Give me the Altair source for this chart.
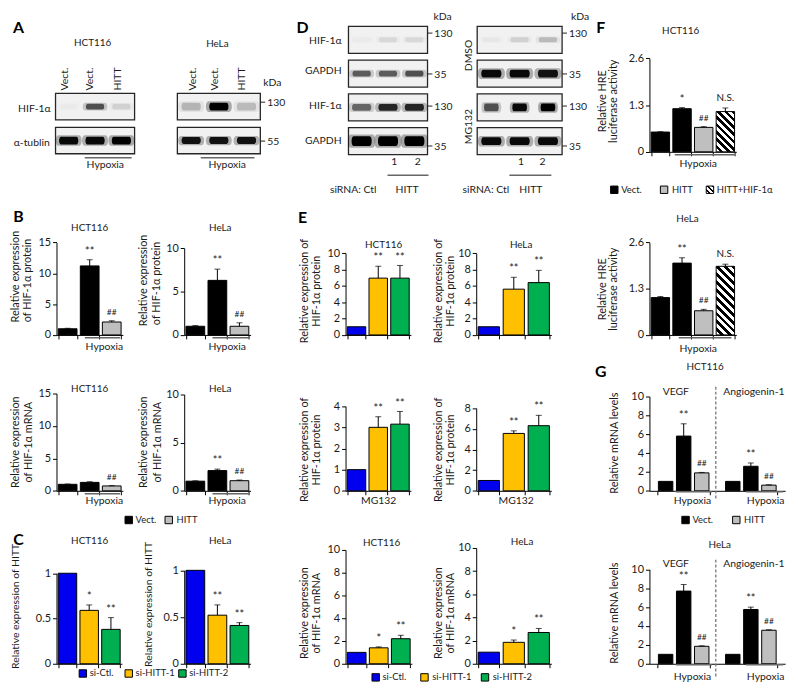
import math
import altair as alt
import pandas as pd

FONT = "Lato"
SX, SY = 0.986, 0.983
C = [48, 178, 343, 476, 653, 797]
R = [15, 144, 332, 492, 669]
INK = "#1a1a1a"

COLORS = {"Vect.": "#000000", "HITT": "#bfbfbf", "HITT+HIF-1α": "#ffffff",
          "si-Ctl.": "#0000ee", "si-HITT-1": "#ffc000", "si-HITT-2": "#00b050"}

# ------------------------------------------------------------------ data
vect_hitt = ["Vect.", "Vect.", "HITT"]
sirna = ["si-Ctl.", "si-HITT-1", "si-HITT-2"]
luc_groups = ["Vect.", "Vect.", "HITT", "HITT+HIF-1α"]
gene_names = ["VEGF"] * 3 + ["Angiogenin-1"] * 3
gene_groups = vect_hitt * 2

b1_vals = [1.0, 11.2, 2.1]; b1_errs = [0.08, 1.0, 0.2]; b1_sig = ["", "**", "##"]
b2_vals = [1.0, 6.3, 1.0]; b2_errs = [0.08, 1.3, 0.4]; b2_sig = ["", "**", "##"]
b3_vals = [1.0, 1.3, 0.75]; b3_errs = [0.05, 0.1, 0.05]; b3_sig = ["", "", "##"]
b4_vals = [1.0, 2.1, 1.05]; b4_errs = [0.04, 0.15, 0.07]; b4_sig = ["", "**", "##"]

c1_vals = [1.0, 0.59, 0.38]; c1_errs = [0, 0.06, 0.13]; c1_sig = ["", "*", "**"]
c2_vals = [1.0, 0.52, 0.41]; c2_errs = [0, 0.11, 0.03]; c2_sig = ["", "**", "**"]

e1_vals = [1.0, 6.95, 6.95]; e1_errs = [0, 1.45, 1.55]; e1_sig = ["", "**", "**"]
e2_vals = [1.0, 5.6, 6.4]; e2_errs = [0, 1.45, 1.5]; e2_sig = ["", "**", "**"]
e3_vals = [1.0, 3.0, 3.15]; e3_errs = [0, 0.5, 0.6]; e3_sig = ["", "**", "**"]
e4_vals = [1.0, 5.55, 6.3]; e4_errs = [0, 0.25, 1.0]; e4_sig = ["", "**", "**"]
e5_vals = [1.0, 1.4, 2.2]; e5_errs = [0, 0.08, 0.3]; e5_sig = ["", "*", "**"]
e6_vals = [1.0, 1.85, 2.7]; e6_errs = [0, 0.2, 0.35]; e6_sig = ["", "*", "**"]

f1_vals = [0.55, 1.2, 0.68, 1.12]; f1_errs = [0.01, 0.03, 0.02, 0.1]; f1_sig = ["", "*", "##", "N.S."]
f2_vals = [1.05, 2.02, 0.68, 1.93]; f2_errs = [0.03, 0.15, 0.04, 0.06]; f2_sig = ["", "**", "##", "N.S."]

g1_vals = [1.0, 5.8, 1.9, 1.0, 2.6, 0.6]; g1_errs = [0, 1.3, 0.05, 0, 0.35, 0.04]
g1_sig = ["", "**", "##", "", "**", "##"]
g2_vals = [1.0, 7.7, 1.85, 1.0, 5.75, 3.55]; g2_errs = [0, 0.7, 0.05, 0, 0.25, 0.05]
g2_sig = ["", "**", "##", "", "**", "##"]

# western blot band intensities (rows x lanes)
a_lanes = ["Vect.", "Vect.", "HITT"]
a_hct_blot = [[0.02, 0.6, 0.1], [0.95, 0.95, 1.0]]
a_hela_blot = [[0.2, 1.0, 0.18], [0.9, 0.9, 0.9]]
d_left_blot = [[0.02, 0.08, 0.08], [0.55, 0.55, 0.6], [0.5, 0.8, 0.8], [1.0, 1.0, 1.0]]
d_right_blot = [[0.03, 0.1, 0.18], [0.95, 0.95, 0.9], [0.6, 0.95, 1.0], [0.95, 0.95, 0.95]]

# ------------------------------------------------------------------ helpers
def lx(x, c): return (x - C[c]) * SX
def ly(y, r): return (y - R[r]) * SY
def W(c): return (C[c + 1] - C[c]) * SX
def H(r): return (R[r + 1] - R[r]) * SY

ONE = pd.DataFrame({"k": [0]})


def txt(c, r, x, y, s, size=10.5, align="center", angle=0, weight="normal", color=INK, baseline="middle"):
    kw = dict(font=FONT, fontSize=size, align=align, baseline=baseline, fontWeight=weight, color=color)
    if angle:
        kw["angle"] = angle
    return alt.Chart(ONE).mark_text(**kw).encode(
        x=alt.value(lx(x, c)), y=alt.value(ly(y, r)), text=alt.value(s))


def letter(c, r, x, y, s):
    return txt(c, r, x, y, s, size=16, weight="bold", color="#000000")


def hline(c, r, x0, x1, y, color="#666666", w=1.5):
    return alt.Chart(ONE).mark_rule(color=color, strokeWidth=w).encode(
        x=alt.value(lx(x0, c)), x2=alt.value(lx(x1, c)), y=alt.value(ly(y, r)))


def vline(c, r, x, y0, y1, color="#777777", w=1.3, dash=(3, 2)):
    return alt.Chart(ONE).mark_rule(color=color, strokeWidth=w, strokeDash=list(dash)).encode(
        x=alt.value(lx(x, c)), y=alt.value(ly(y0, r)), y2=alt.value(ly(y1, r)))


def hatch(w, h, period=5.5, frac=0.5):
    rr = h / w
    a = (1 + rr) / (1 + rr * rr)
    L = (w + h) / math.sqrt(2)
    k = max(2, round(L / period))
    stops = []
    for i in range(k):
        s0, s1, s2 = i / k, (i + frac) / k, (i + 1) / k
        stops += [{"offset": s0, "color": "#ffffff"}, {"offset": s1, "color": "#ffffff"},
                  {"offset": s1, "color": "#000000"}, {"offset": s2, "color": "#000000"}]
    return {"gradient": "linear", "x1": 0, "y1": 1, "x2": a, "y2": 1 - a * rr, "stops": stops}


def swatch(c, r, x, y, fill):
    return alt.Chart(ONE).mark_point(shape="square", size=56, filled=True, fill=fill, stroke="#000000",
                                     strokeWidth=1, opacity=1).encode(
        x=alt.value(lx(x, c)), y=alt.value(ly(y, r)))


def legend(c, r, y, items):
    out = []
    for xs, xt, lab in items:
        fill = hatch(7.5, 7.5, period=3.6) if lab == "HITT+HIF-1α" else COLORS[lab]
        out.append(swatch(c, r, xs, y, fill))
        out.append(txt(c, r, xt, y, lab, size=9.5, align="left"))
    return out


SIG_STYLE = {"*": (11, -8), "**": (11, -8), "##": (8.5, -9), "N.S.": (10, -10)}


def bars(c, r, groups, vals, errs, sig, ymax, ticks, ytop, xend, gene=None):
    n = len(vals)
    h = H(r)
    df = pd.DataFrame({
        "bar": [str(i % 3) if gene else str(i) for i in range(n)],
        "grp": groups, "v": vals, "e": errs,
        "top": [v + e for v, e in zip(vals, errs)],
        "sig": sig,
        "fill": [COLORS[g] for g in groups],
    })
    if gene:
        df["gene"] = gene
    xr = [0, lx(xend, c)]
    xax = alt.Axis(labels=False, title=None, grid=False, tickBand="extent", tickSize=4,
                   domainColor="#000000", tickColor="#000000")
    ys = alt.Scale(domain=[0, ymax], range=[h, ly(ytop, r)], nice=False, zero=True)
    yax = alt.Axis(values=ticks, labelExpr="'' + datum.value", title=None, grid=False, tickSize=4,
                   domainColor="#000000", tickColor="#000000", labelFont=FONT, labelFontSize=11,
                   labelColor=INK, labelPadding=2)
    pi, po = 0.15, 0.08
    if gene:
        xsc = alt.Scale(domain=["VEGF", "Angiogenin-1"], range=xr, paddingInner=0.22, paddingOuter=0.12)
        X = alt.X("gene:N", scale=xsc, axis=xax)
        extra = {"xOffset": alt.XOffset("bar:N", scale=alt.Scale(domain=["0", "1", "2"],
                                                                 paddingInner=0.2, paddingOuter=0.05))}
    else:
        xsc = alt.Scale(domain=list(df["bar"]), range=xr, paddingInner=pi, paddingOuter=po)
        X = alt.X("bar:N", scale=xsc, axis=xax)
        extra = {}

    def Y(f):
        return alt.Y(f, scale=ys, axis=yax)

    fill = alt.Fill("fill:N", scale=None)
    if "HITT+HIF-1α" in groups:
        i = groups.index("HITT+HIF-1α")
        step = lx(xend, c) / (n - pi + 2 * po)
        bw = step * (1 - pi)
        bh = vals[i] / ymax * (h - ly(ytop, r))
        fill = alt.condition("datum.grp == 'HITT+HIF-1α'", alt.value(hatch(bw, bh)),
                             alt.Fill("fill:N", scale=None))
    layers = [alt.Chart(df).mark_bar(stroke="#000000", strokeWidth=1).encode(
        x=X, y=Y("v:Q"), fill=fill, **extra)]
    de = df[df["e"] > 0]
    layers.append(alt.Chart(de).mark_rule(color="#000000", strokeWidth=1).encode(
        x=X, y=Y("v:Q"), y2="top:Q", **extra))
    layers.append(alt.Chart(de).mark_tick(orient="horizontal", size=6, thickness=1, color="#000000").encode(
        x=X, y=Y("top:Q"), **extra))
    for kind, (fs, dy) in SIG_STYLE.items():
        ds = df[df["sig"] == kind]
        if len(ds):
            layers.append(alt.Chart(ds).mark_text(baseline="middle", dy=dy, font=FONT, fontSize=fs,
                                                  color=INK).encode(
                x=X, y=Y("top:Q"), text="sig:N", **extra))
    return layers


def band_path(k):
    return (f"M -0.75 {-k:.3f} L 0.75 {-k:.3f} C 1 {-k:.3f} 1 {k:.3f} 0.75 {k:.3f} "
            f"L -0.75 {k:.3f} C -1 {k:.3f} -1 {-k:.3f} -0.75 {-k:.3f} Z")


def blot(c, r, x0, x1, y0, y1, inten, bw, bh, pad=0.2):
    nrow, nl = len(inten), len(inten[0])
    rows = [f"r{i}" for i in range(nrow)]
    frame = pd.DataFrame({"row": rows, "a": [0] * nrow, "b": [nl] * nrow})
    xs = alt.Scale(domain=[0, nl], range=[lx(x0, c), lx(x1, c)], nice=False, zero=False)
    ys = alt.Scale(domain=rows, range=[ly(y0, r), ly(y1, r)], paddingInner=pad, paddingOuter=0)
    layers = [alt.Chart(frame).mark_rect(fill="#f1f1f1", stroke="#262626", strokeWidth=1.3).encode(
        x=alt.X("a:Q", scale=xs, axis=None), x2="b:Q", y=alt.Y("row:N", scale=ys, axis=None))]
    for i in range(nrow):
        d = pd.DataFrame({"row": [rows[i]] * nl, "lane": [j + 0.5 for j in range(nl)],
                          "I": inten[i], "Ib": [v * 0.3 for v in inten[i]]})
        k = bh[i] / bw[i]
        for grow, fld in ((1.35, "Ib"), (1.0, "I")):
            layers.append(alt.Chart(d).mark_point(shape=band_path(k), filled=True, color="#000000",
                                                  strokeWidth=0, size=(bw[i] * SX * grow) ** 2).encode(
                x=alt.X("lane:Q", scale=xs, axis=None), y=alt.Y("row:N", scale=ys, axis=None),
                opacity=alt.Opacity(f"{fld}:Q", scale=None)))
    return layers


def marker(c, r, xbox, y, s):
    return [hline(c, r, xbox, xbox + 5, y, color="#222222", w=1), txt(c, r, xbox + 7, y + 1, s, align="left")]


def cell(c, r, layers):
    return alt.layer(*layers).properties(width=W(c), height=H(r))


def ytitle(c, r, x, y, s, size=11):
    return txt(c, r, x, y, s, size=size, angle=270)

# ------------------------------------------------------------------ row 0
A1 = cell(0, 0, [
    *blot(0, 0, 47, 128, 84, 146, a_hct_blot, [20, 21], [6, 8], pad=0.22),
    letter(0, 0, 9, 17, "A"),
    txt(0, 0, 85, 32, "HCT116", size=10),
    *[txt(0, 0, x, 81, s, angle=270, align="left") for x, s in zip([57, 82, 111], a_lanes)],
    txt(0, 0, 42, 100, "HIF-1α", align="right"),
    txt(0, 0, 41, 135, "α-tublin", align="right"),
    hline(0, 0, 77, 125, 150),
    txt(0, 0, 98, 158, "Hypoxia"),
])

A2 = cell(1, 0, [
    *blot(1, 0, 171, 256, 84, 146, a_hela_blot, [21, 21], [8, 7], pad=0.22),
    txt(1, 0, 212, 33, "HeLa", size=10),
    *[txt(1, 0, x, 81, s, angle=270, align="left") for x, s in zip([187, 210, 237], a_lanes)],
    txt(1, 0, 259, 73, "kDa", align="left"),
    *marker(1, 0, 256, 93, "130"),
    *marker(1, 0, 256, 133, "55"),
    hline(1, 0, 195, 250, 150),
    txt(1, 0, 222, 158, "Hypoxia"),
])

D1 = cell(2, 0, [
    *blot(2, 0, 346, 427, 15, 147, d_left_blot, [20, 20, 21, 22], [5, 6, 7, 10]),
    letter(2, 0, 299, 17, "D"),
    txt(2, 0, 433, 5, "kDa", align="left"),
    txt(2, 0, 339, 30, "HIF-1α", align="right"),
    txt(2, 0, 339, 61, "GAPDH", align="right"),
    txt(2, 0, 339, 97, "HIF-1α", align="right"),
    txt(2, 0, 339, 133, "GAPDH", align="right"),
    *marker(2, 0, 427, 22, "130"), *marker(2, 0, 427, 64, "35"),
    *marker(2, 0, 427, 97, "130"), *marker(2, 0, 427, 138, "35"),
    txt(2, 0, 393, 155, "1"), txt(2, 0, 417, 155, "2"),
    hline(2, 0, 386, 428, 168),
    txt(2, 0, 327, 183, "siRNA:  Ctl", align="left"),
    txt(2, 0, 406, 183, "HITT"),
])

D2 = cell(3, 0, [
    *blot(3, 0, 477, 564, 15, 147, d_right_blot, [20, 22, 16, 22], [5, 8, 8, 8]),
    txt(3, 0, 573, 5, "kDa", align="left"),
    txt(3, 0, 469, 45, "DMSO", angle=270),
    txt(3, 0, 469, 118, "MG132", angle=270),
    *marker(3, 0, 564, 22, "130"), *marker(3, 0, 564, 64, "35"),
    *marker(3, 0, 564, 97, "130"), *marker(3, 0, 564, 138, "35"),
    txt(3, 0, 522, 155, "1"), txt(3, 0, 544, 155, "2"),
    hline(3, 0, 510, 553, 168),
    txt(3, 0, 462, 183, "siRNA:  Ctl", align="left"),
    txt(3, 0, 532, 183, "HITT"),
])

F1 = cell(4, 0, [
    *bars(4, 0, luc_groups, f1_vals, f1_errs, f1_sig, 2.6, [0, 1.3, 2.6], 48, 742),
    letter(4, 0, 603, 17, "F"),
    txt(4, 0, 685, 20, "HCT116", size=10),
    ytitle(4, 0, 605, 92, "Relative HRE"),
    ytitle(4, 0, 617, 92, "luciferase activity"),
    hline(4, 0, 679, 740, 147),
    txt(4, 0, 703, 157, "Hypoxia"),
    *legend(4, 0, 183, [(617, 624, "Vect."), (668, 676, "HITT"), (715, 722, "HITT+HIF-1α")]),
])

# ------------------------------------------------------------------ row 1
B1 = cell(0, 1, [
    *bars(0, 1, vect_hitt, b1_vals, b1_errs, b1_sig, 15, [0, 5, 10, 15], 237, 116),
    letter(0, 1, 9, 211, "B"),
    txt(0, 1, 82, 222, "HCT116", size=10),
    ytitle(0, 1, 7, 272, "Relative expression"),
    ytitle(0, 1, 19, 276, "of HIF-1α protein"),
    hline(0, 1, 77, 113, 335),
    txt(0, 1, 97, 344, "Hypoxia"),
])

B2 = cell(1, 1, [
    *bars(1, 1, vect_hitt, b2_vals, b2_errs, b2_sig, 10, [0, 5, 10], 243, 246),
    txt(1, 1, 215, 222, "HeLa", size=10),
    ytitle(1, 1, 137, 276, "Relative expression"),
    ytitle(1, 1, 150, 279, "of HIF-1α protein"),
    hline(1, 1, 207, 245, 335),
    txt(1, 1, 222, 344, "Hypoxia"),
])

E1 = cell(2, 1, [
    *bars(2, 1, sirna, e1_vals, e1_errs, e1_sig, 10, [0, 2, 4, 6, 8, 10], 248, 410),
    letter(2, 1, 299, 212, "E"),
    txt(2, 1, 382, 240, "HCT116", size=10),
    ytitle(2, 1, 302, 287, "Relative expression of"),
    ytitle(2, 1, 314, 287, "HIF-1α protein"),
])

E2 = cell(3, 1, [
    *bars(3, 1, sirna, e2_vals, e2_errs, e2_sig, 10, [0, 2, 4, 6, 8, 10], 248, 553),
    txt(3, 1, 522, 240, "HeLa", size=10),
    ytitle(3, 1, 438, 287, "Relative expression of"),
    ytitle(3, 1, 450, 287, "HIF-1α protein"),
])

F2 = cell(4, 1, [
    *bars(4, 1, luc_groups, f2_vals, f2_errs, f2_sig, 2.6, [0, 1.3, 2.6], 237, 742),
    txt(4, 1, 692, 213, "HeLa", size=10),
    ytitle(4, 1, 605, 285, "Relative HRE"),
    ytitle(4, 1, 617, 285, "luciferase activity"),
    hline(4, 1, 683, 737, 335),
    txt(4, 1, 703, 347, "Hypoxia"),
])

# ------------------------------------------------------------------ row 2
B3 = cell(0, 2, [
    *bars(0, 2, vect_hitt, b3_vals, b3_errs, b3_sig, 15, [0, 5, 10, 15], 392, 116),
    txt(0, 2, 82, 387, "HCT116", size=10),
    ytitle(0, 2, 7, 442, "Relative expression"),
    ytitle(0, 2, 20, 442, "of HIF-1α mRNA"),
    hline(0, 2, 77, 113, 495),
    txt(0, 2, 97, 503, "Hypoxia"),
    *legend(0, 2, 522, [(122, 129, "Vect."), (163, 171, "HITT")]),
])

B4 = cell(1, 2, [
    *bars(1, 2, vect_hitt, b4_vals, b4_errs, b4_sig, 10, [0, 5, 10], 393, 246),
    txt(1, 2, 215, 387, "HeLa", size=10),
    ytitle(1, 2, 137, 442, "Relative expression"),
    ytitle(1, 2, 151, 442, "of HIF-1α mRNA"),
    hline(1, 2, 207, 245, 495),
    txt(1, 2, 222, 503, "Hypoxia"),
])

E3 = cell(2, 2, [
    *bars(2, 2, sirna, e3_vals, e3_errs, e3_sig, 4, [0, 1, 2, 3, 4], 405, 410),
    ytitle(2, 2, 302, 450, "Relative expression of"),
    ytitle(2, 2, 314, 450, "HIF-1α protein"),
    txt(2, 2, 377, 502, "MG132"),
])

E4 = cell(3, 2, [
    *bars(3, 2, sirna, e4_vals, e4_errs, e4_sig, 8, [0, 2, 4, 6, 8], 407, 553),
    ytitle(3, 2, 438, 450, "Relative expression of"),
    ytitle(3, 2, 450, 450, "HIF-1α protein"),
    txt(3, 2, 517, 502, "MG132"),
])

G1 = cell(4, 2, [
    vline(4, 2, 721, 385, 500),
    *bars(4, 2, gene_groups, g1_vals, g1_errs, g1_sig, 10, [0, 2, 4, 6, 8, 10], 395, 792, gene=gene_names),
    letter(4, 2, 603, 370, "G"),
    txt(4, 2, 710, 365, "HCT116", size=10),
    txt(4, 2, 680, 390, "VEGF"),
    txt(4, 2, 760, 390, "Angiogenin-1"),
    ytitle(4, 2, 618, 443, "Relative mRNA levels"),
    hline(4, 2, 680, 717, 493), hline(4, 2, 752, 790, 493),
    txt(4, 2, 697, 503, "Hypoxia"), txt(4, 2, 772, 503, "Hypoxia"),
    *legend(4, 2, 522, [(690, 697, "Vect."), (742, 750, "HITT")]),
])

# ------------------------------------------------------------------ row 3
C1 = cell(0, 3, [
    *bars(0, 3, sirna, c1_vals, c1_errs, c1_sig, 1, [0, 0.5, 1], 576, 115),
    letter(0, 3, 9, 542, "C"),
    txt(0, 3, 82, 543, "HCT116", size=10),
    ytitle(0, 3, 7, 610, "Relative expression of HITT", size=10.5),
    *legend(0, 3, 679, [(75, 82, "si-Ctl."), (122, 129, "si-HITT-1"), (177, 184, "si-HITT-2")]),
])

C2 = cell(1, 3, [
    *bars(1, 3, sirna, c2_vals, c2_errs, c2_sig, 1, [0, 0.5, 1], 573, 246),
    txt(1, 3, 215, 543, "HeLa", size=10),
    ytitle(1, 3, 142, 608, "Relative expression of HITT", size=10.5),
])

E5 = cell(2, 3, [
    *bars(2, 3, sirna, e5_vals, e5_errs, e5_sig, 10, [0, 2, 4, 6, 8, 10], 552, 411),
    txt(2, 3, 380, 545, "HCT116", size=10),
    ytitle(2, 3, 302, 617, "Relative expression"),
    ytitle(2, 3, 314, 617, "of HIF-1α mRNA"),
])

E6 = cell(3, 3, [
    *bars(3, 3, sirna, e6_vals, e6_errs, e6_sig, 10, [0, 2, 4, 6, 8, 10], 550, 553),
    txt(3, 3, 523, 544, "HeLa", size=10),
    ytitle(3, 3, 438, 617, "Relative expression"),
    ytitle(3, 3, 450, 617, "of HIF-1α mRNA"),
    *legend(3, 3, 683, [(373, 380, "si-Ctl."), (423, 431, "si-HITT-1"), (485, 493, "si-HITT-2")]),
])

G2 = cell(4, 3, [
    vline(4, 3, 721, 562, 682),
    *bars(4, 3, gene_groups, g2_vals, g2_errs, g2_sig, 10, [0, 2, 4, 6, 8, 10], 572, 792, gene=gene_names),
    txt(4, 3, 725, 547, "HeLa", size=10),
    txt(4, 3, 680, 567, "VEGF"),
    txt(4, 3, 760, 567, "Angiogenin-1"),
    ytitle(4, 3, 618, 617, "Relative mRNA levels"),
    hline(4, 3, 680, 717, 670), hline(4, 3, 752, 790, 670),
    txt(4, 3, 697, 683, "Hypoxia"), txt(4, 3, 772, 683, "Hypoxia"),
])

chart = alt.concat(
    A1, A2, D1, D2, F1,
    B1, B2, E1, E2, F2,
    B3, B4, E3, E4, G1,
    C1, C2, E5, E6, G2,
    columns=5, spacing=0, bounds="flush", align="each",
).properties(padding={"left": 2, "top": 0, "right": 0, "bottom": 0}).configure_view(
    stroke=None).configure_axis(labelFont=FONT)

chart.save("out.html", embed_options={"renderer": "svg", "actions": False})
